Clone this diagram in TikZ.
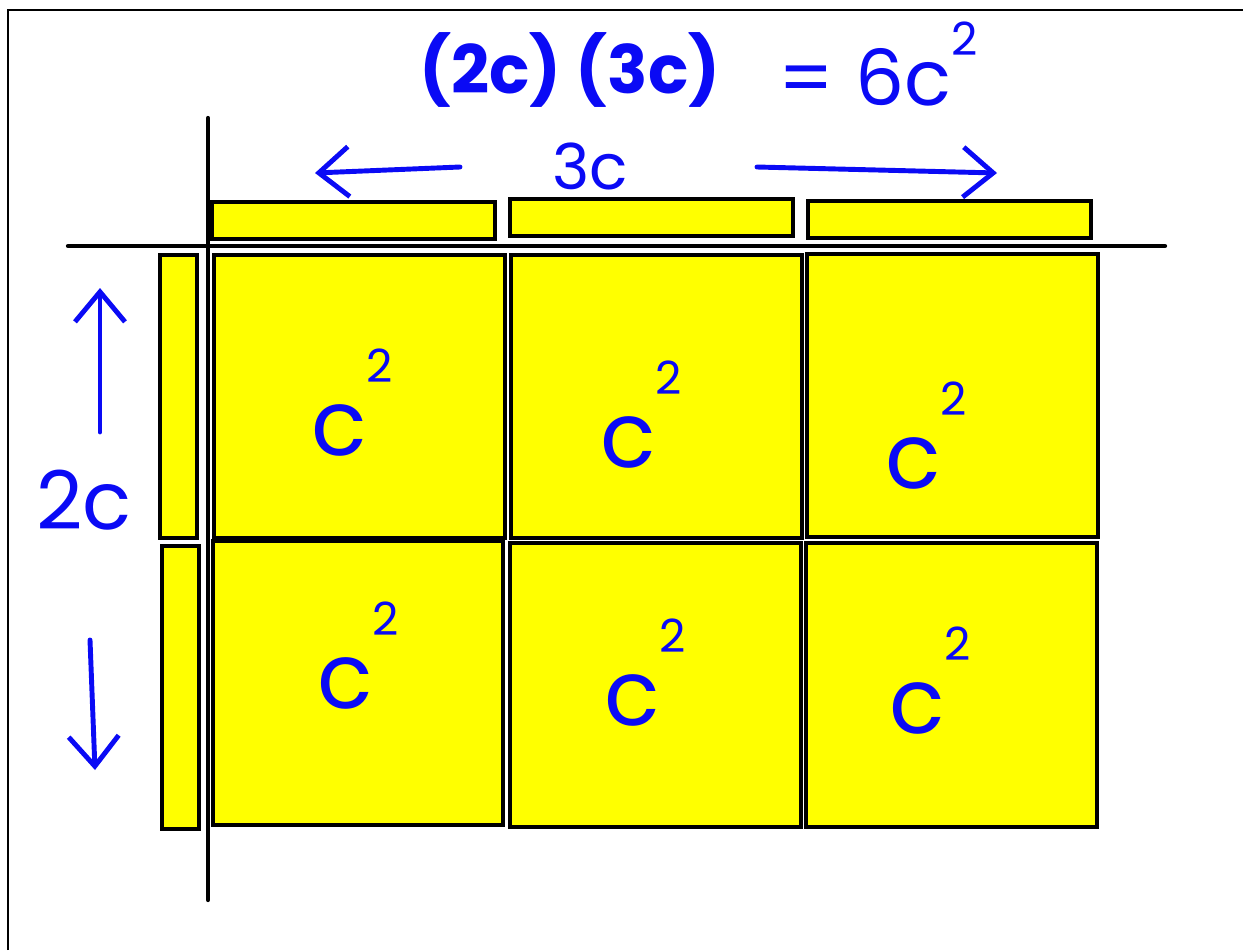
\documentclass[tikz,border=0pt]{standalone}
\usepackage{fontspec}
\setmainfont{Poppins}
\usetikzlibrary{arrows.meta}
\definecolor{pen}{RGB}{10,10,245}
\definecolor{tileyellow}{RGB}{255,255,0}
\newcommand{\csqr}{c\raisebox{0.8em}{\fontsize{26}{26}\selectfont 2}}
\begin{document}
\begin{tikzpicture}[x=0.02cm,y=-0.02cm,
  tile/.style={draw=black,fill=tileyellow,line width=2.6pt},
  axis/.style={line width=2.4pt,line cap=round},
  handtext/.style={text=pen,font=\fontsize{#1}{#1}\selectfont,inner sep=0pt},
  harrow/.style={draw=pen,line width=2.8pt,line cap=round,
    -{Straight Barb[length=6mm,width=10mm,line width=2.8pt]}}]
\useasboundingbox (0,0) rectangle (1243,950);
\draw[line width=1.1pt] (8,950) -- (8,10) -- (1243,10);
% axes
\draw[axis] (208,118) -- (208,900);
\draw[axis] (68,246) -- (1165,246);
% bars and tiles
\foreach \xa/\ya/\xb/\yb in {212/202/495/239,510/199/793/236,808/201/1091/238}
  \draw[tile] (\xa,\ya) rectangle (\xb,\yb);
\foreach \xa/\ya/\xb/\yb in {160/255/197/538,162/546/199/829}
  \draw[tile] (\xa,\ya) rectangle (\xb,\yb);
\foreach \xa/\ya/\xb/\yb in {214/255/505/538,511/255/802/538,807/254/1098/537,
  213/541/503/825,510/543/801/827,806/543/1097/827}
  \draw[tile] (\xa,\ya) rectangle (\xb,\yb);
\foreach \name/\x/\y in {q1/352/403,q2/641/415,q3/926/436,q4/358/656,q5/645/673,q6/930/681}
  \node[handtext=52] (\name) at (\x,\y) {\csqr};
% title
\node[text=pen,inner sep=0pt,font=\fontsize{38}{38}\selectfont\bfseries] (prod) at (570,70) {(2c) (3c)};
\node[handtext=44] (eq) at (878,64) {= 6c\raisebox{0.65em}{\fontsize{26}{26}\selectfont 2}};
% dimensions
\node[handtext=36] (top) at (590,166) {3c};
\node[handtext=46] (side) at (84,500) {2c};
\coordinate (tl0) at (460,167); \coordinate (tl1) at (315,173);
\coordinate (tr0) at (757,167); \coordinate (tr1) at (997,173);
\coordinate (su0) at (100,432); \coordinate (su1) at (100,288);
\coordinate (sd0) at (90,640); \coordinate (sd1) at (95,770);
\draw[harrow] (tl0) -- (tl1);
\draw[harrow] (tr0) -- (tr1);
\draw[harrow] (su0) -- (su1);
\draw[harrow] (sd0) -- (sd1);
\end{tikzpicture}
\end{document}
